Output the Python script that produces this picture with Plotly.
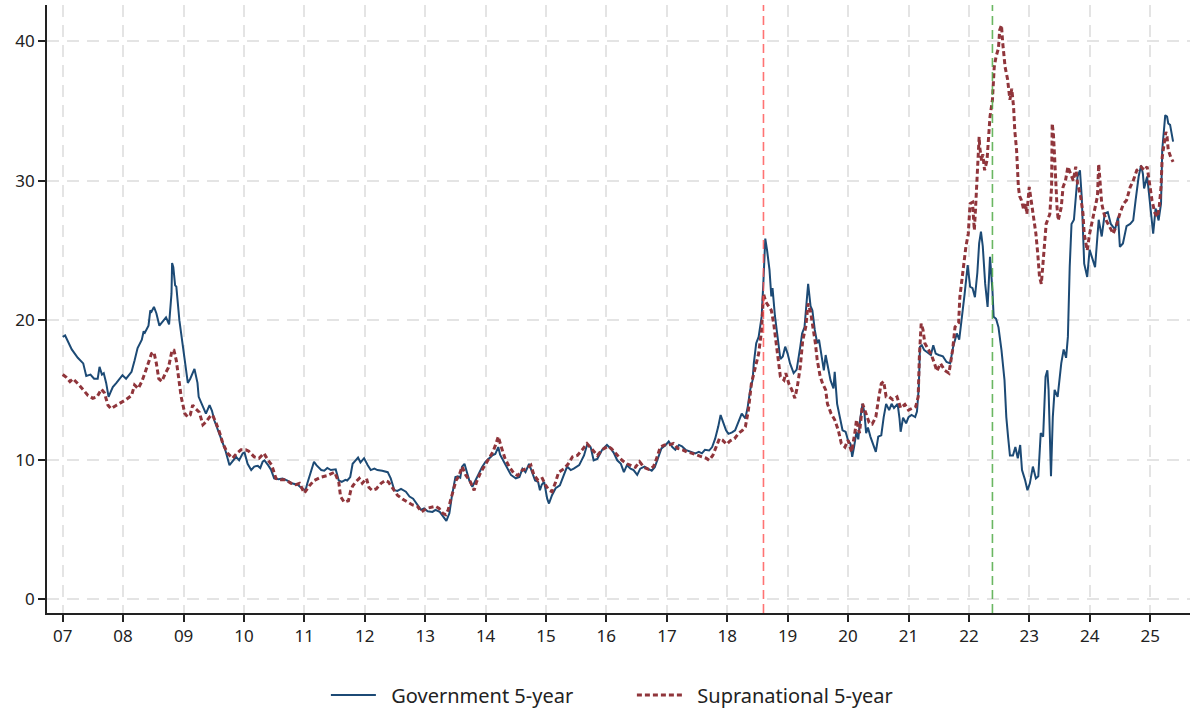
import pandas as pd
import plotly.graph_objects as go

# Weekly-ish observations, time in decimal years
gov_year = [
    2007.00, 2007.04, 2007.15, 2007.25, 2007.34, 2007.39, 2007.46, 2007.52, 2007.58, 2007.61, 2007.65, 2007.68, 2007.72, 2007.76, 2007.79, 2007.83, 2007.89, 2007.94, 2007.99,
    2008.05, 2008.14, 2008.19, 2008.24, 2008.31, 2008.34, 2008.36, 2008.42, 2008.45, 2008.47, 2008.51, 2008.55, 2008.60, 2008.66, 2008.71, 2008.76, 2008.80, 2008.81, 2008.83, 2008.86, 2008.88, 2008.93, 2008.99,
    2009.03, 2009.07, 2009.11, 2009.15, 2009.18, 2009.23, 2009.25, 2009.32, 2009.37, 2009.43, 2009.47, 2009.51, 2009.57, 2009.62, 2009.69, 2009.76, 2009.81, 2009.87, 2009.92, 2009.98,
    2010.01, 2010.06, 2010.12, 2010.17, 2010.23, 2010.27, 2010.31, 2010.34, 2010.40, 2010.45, 2010.50, 2010.57, 2010.64, 2010.72, 2010.79, 2010.89, 2010.97,
    2011.02, 2011.05, 2011.11, 2011.16, 2011.20, 2011.28, 2011.33, 2011.38, 2011.44, 2011.52, 2011.57, 2011.62, 2011.68, 2011.71, 2011.76, 2011.80, 2011.85, 2011.89, 2011.93, 2011.99,
    2012.05, 2012.10, 2012.16, 2012.21, 2012.29, 2012.38, 2012.43, 2012.49, 2012.54, 2012.60, 2012.68, 2012.74, 2012.80, 2012.87, 2012.93, 2012.98,
    2013.04, 2013.12, 2013.17, 2013.24, 2013.30, 2013.35, 2013.40, 2013.44, 2013.50, 2013.54, 2013.58, 2013.61, 2013.65, 2013.69, 2013.73, 2013.78, 2013.83, 2013.88, 2013.94,
    2014.00, 2014.06, 2014.11, 2014.16, 2014.21, 2014.24, 2014.30, 2014.36, 2014.42, 2014.50, 2014.56, 2014.61, 2014.66, 2014.72, 2014.76, 2014.82, 2014.87, 2014.90, 2014.93, 2014.97,
    2015.02, 2015.05, 2015.10, 2015.16, 2015.23, 2015.30, 2015.35, 2015.41, 2015.46, 2015.55, 2015.63, 2015.68, 2015.74, 2015.79, 2015.85, 2015.93,
    2016.01, 2016.07, 2016.12, 2016.18, 2016.24, 2016.29, 2016.34, 2016.40, 2016.45, 2016.51, 2016.56, 2016.63, 2016.70, 2016.75, 2016.80, 2016.86, 2016.91, 2016.98,
    2017.03, 2017.09, 2017.14, 2017.20, 2017.25, 2017.31, 2017.39, 2017.47, 2017.53, 2017.58, 2017.63, 2017.70, 2017.75, 2017.80, 2017.85, 2017.89, 2017.93, 2017.98,
    2018.02, 2018.08, 2018.13, 2018.19, 2018.24, 2018.30, 2018.34, 2018.38, 2018.42, 2018.44, 2018.48, 2018.52, 2018.57, 2018.60, 2018.63, 2018.66, 2018.70, 2018.73, 2018.75, 2018.79, 2018.82, 2018.85, 2018.88, 2018.92, 2018.96,
    2019.00, 2019.04, 2019.10, 2019.15, 2019.21, 2019.24, 2019.28, 2019.31, 2019.34, 2019.38, 2019.41, 2019.45, 2019.49, 2019.52, 2019.57, 2019.60, 2019.63, 2019.68, 2019.71, 2019.76, 2019.78, 2019.82, 2019.87, 2019.91, 2019.96,
    2020.00, 2020.04, 2020.07, 2020.10, 2020.14, 2020.17, 2020.20, 2020.24, 2020.27, 2020.30, 2020.33, 2020.37, 2020.41, 2020.46, 2020.50, 2020.55, 2020.59, 2020.63, 2020.68, 2020.72, 2020.76, 2020.82, 2020.85, 2020.87, 2020.91, 2020.96,
    2021.00, 2021.05, 2021.11, 2021.14, 2021.17, 2021.19, 2021.22, 2021.26, 2021.31, 2021.37, 2021.41, 2021.45, 2021.50, 2021.57, 2021.63, 2021.69, 2021.74, 2021.80, 2021.84, 2021.89, 2021.93, 2021.98,
    2022.02, 2022.06, 2022.10, 2022.14, 2022.17, 2022.20, 2022.23, 2022.27, 2022.31, 2022.35, 2022.36, 2022.39, 2022.41, 2022.45, 2022.49, 2022.54, 2022.59, 2022.62, 2022.65, 2022.68, 2022.73, 2022.77, 2022.81, 2022.85, 2022.88, 2022.93, 2022.97,
    2023.01, 2023.06, 2023.11, 2023.15, 2023.19, 2023.23, 2023.27, 2023.30, 2023.32, 2023.36, 2023.39, 2023.42, 2023.47, 2023.53, 2023.57, 2023.61, 2023.64, 2023.67, 2023.70, 2023.74, 2023.77, 2023.80, 2023.84, 2023.87, 2023.91, 2023.96,
    2024.00, 2024.04, 2024.09, 2024.15, 2024.20, 2024.25, 2024.30, 2024.35, 2024.42, 2024.47, 2024.50, 2024.55, 2024.61, 2024.67, 2024.72, 2024.76, 2024.81, 2024.85, 2024.88, 2024.90, 2024.95, 2024.98,
    2025.02, 2025.05, 2025.09, 2025.14, 2025.18, 2025.20, 2025.25, 2025.28, 2025.30, 2025.33, 2025.38,
]
gov_value = [
    18.8, 18.9, 17.9, 17.3, 16.9, 16.0, 16.1, 15.8, 15.8, 16.65, 16.1, 16.2, 15.5, 14.5, 14.8, 15.2, 15.5, 15.8, 16.05,
    15.8, 16.3, 17.1, 18.0, 18.6, 19.2, 19.1, 19.6, 20.7, 20.6, 20.95, 20.5, 19.6, 19.9, 20.2, 19.7, 21.9, 24.1, 23.8, 22.5, 22.4, 20.0, 18.1,
    16.9, 15.5, 15.8, 16.2, 16.5, 15.5, 14.5, 13.8, 13.3, 13.9, 13.5, 12.8, 12.1, 11.4, 10.7, 9.6, 9.9, 10.2, 9.95, 10.45,
    10.5, 9.7, 9.25, 9.5, 9.55, 9.4, 9.85, 9.95, 9.6, 9.25, 8.65, 8.6, 8.65, 8.5, 8.3, 8.2, 7.9,
    7.8, 8.3, 9.1, 9.85, 9.6, 9.25, 9.2, 9.4, 9.25, 9.3, 8.5, 8.4, 8.55, 8.5, 8.75, 9.7, 9.95, 10.15, 9.8, 10.1,
    9.6, 9.25, 9.35, 9.25, 9.2, 9.1, 8.65, 7.8, 7.75, 7.9, 7.7, 7.35, 7.2, 6.75, 6.4, 6.5,
    6.3, 6.25, 6.4, 6.25, 5.9, 5.6, 6.15, 7.35, 8.75, 8.8, 8.7, 9.5, 9.7, 9.1, 8.5, 8.05, 8.5, 8.9, 9.45,
    9.85, 10.1, 10.3, 10.4, 10.9, 10.35, 9.85, 9.35, 8.9, 8.65, 8.75, 9.35, 9.1, 9.7, 9.2, 8.5, 8.4, 7.8, 8.2, 8.4,
    7.2, 6.85, 7.45, 7.95, 8.15, 8.9, 9.5, 9.25, 9.35, 9.6, 10.3, 11.05, 10.9, 9.95, 10.05, 10.7,
    11.05, 10.8, 10.5, 9.95, 9.7, 9.1, 9.6, 9.35, 9.25, 8.9, 9.35, 9.5, 9.35, 9.2, 9.45, 10.2, 10.8, 11.05,
    11.3, 10.9, 10.7, 11.05, 10.95, 10.7, 10.55, 10.45, 10.55, 10.45, 10.7, 10.65, 10.9, 11.5, 12.35, 13.2, 12.7, 12.1,
    11.85, 11.95, 12.1, 12.7, 13.3, 12.95, 13.8, 15.0, 15.7, 16.9, 18.35, 18.8, 20.25, 22.85, 25.85, 25.0, 23.6, 21.7, 22.3, 20.3, 19.3, 18.1, 17.2, 17.4, 18.1,
    17.6, 16.9, 16.2, 16.45, 18.1, 19.05, 19.5, 20.95, 22.6, 21.0, 20.7, 19.3, 18.35, 18.6, 17.4, 16.4, 17.5, 16.4, 15.7, 15.1, 16.3, 14.0, 13.05, 12.1, 12.0,
    11.4, 11.15, 10.2, 10.9, 12.0, 11.45, 12.85, 14.0, 13.4, 11.9, 12.3, 11.65, 11.2, 10.55, 11.65, 11.75, 13.05, 14.0, 13.55, 14.0, 13.7, 14.0, 13.0, 12.0, 13.0, 12.6,
    13.05, 13.2, 13.05, 13.45, 15.2, 18.1, 18.2, 17.85, 17.7, 17.5, 18.2, 17.6, 17.5, 17.4, 17.0, 16.9, 18.1, 19.05, 18.6, 20.25, 21.9, 23.95,
    22.4, 22.3, 21.65, 23.4, 25.5, 26.35, 25.3, 22.6, 20.95, 24.55, 24.0, 22.15, 20.25, 20.1, 19.5, 17.85, 15.7, 13.05, 11.6, 10.3, 10.3, 10.9, 10.1, 11.05, 9.25, 8.55, 7.8,
    8.3, 9.5, 8.65, 8.8, 11.9, 11.65, 15.95, 16.4, 15.0, 8.8, 13.05, 15.0, 14.5, 16.9, 17.9, 17.3, 18.8, 23.8, 26.9, 27.2, 28.85, 30.3, 30.75, 28.8, 24.05, 23.1,
    25.05, 24.55, 23.8, 27.2, 26.0, 27.65, 27.75, 26.9, 26.5, 27.4, 25.25, 25.5, 26.75, 26.9, 27.15, 28.6, 30.3, 31.1, 30.5, 29.45, 30.3, 29.1,
    27.4, 26.2, 28.0, 27.15, 28.35, 32.2, 34.7, 34.6, 34.1, 34.0, 32.8,
]

supra_year = [
    2007.00, 2007.06, 2007.12, 2007.17, 2007.25, 2007.34, 2007.42, 2007.50, 2007.57, 2007.64, 2007.69, 2007.75, 2007.80, 2007.89, 2007.97,
    2008.05, 2008.14, 2008.19, 2008.25, 2008.31, 2008.36, 2008.41, 2008.47, 2008.51, 2008.55, 2008.59, 2008.64, 2008.70, 2008.75, 2008.81, 2008.84, 2008.88, 2008.92, 2008.96,
    2009.02, 2009.07, 2009.11, 2009.15, 2009.20, 2009.26, 2009.32, 2009.37, 2009.43, 2009.48, 2009.54, 2009.60, 2009.65, 2009.73, 2009.81, 2009.88, 2009.95,
    2010.03, 2010.08, 2010.17, 2010.25, 2010.33, 2010.40, 2010.46, 2010.53, 2010.61, 2010.69, 2010.78, 2010.86, 2010.92,
    2011.00, 2011.08, 2011.16, 2011.28, 2011.38, 2011.50, 2011.57, 2011.60, 2011.66, 2011.73, 2011.77, 2011.80, 2011.85, 2011.91, 2011.96,
    2012.03, 2012.07, 2012.12, 2012.19, 2012.27, 2012.34, 2012.39, 2012.47, 2012.54, 2012.63, 2012.70, 2012.79, 2012.87, 2012.94,
    2013.02, 2013.11, 2013.17, 2013.23, 2013.29, 2013.34, 2013.38, 2013.42, 2013.47, 2013.51, 2013.56, 2013.61, 2013.67, 2013.75, 2013.81, 2013.85, 2013.92, 2013.98,
    2014.05, 2014.12, 2014.16, 2014.21, 2014.26, 2014.32, 2014.39, 2014.47, 2014.53, 2014.61, 2014.68, 2014.75, 2014.80, 2014.87, 2014.94, 2014.99,
    2015.05, 2015.10, 2015.16, 2015.21, 2015.30, 2015.37, 2015.44, 2015.52, 2015.60, 2015.68, 2015.77, 2015.85, 2015.93,
    2016.02, 2016.08, 2016.17, 2016.26, 2016.34, 2016.40, 2016.48, 2016.55, 2016.62, 2016.70, 2016.78, 2016.84, 2016.89, 2016.96,
    2017.03, 2017.11, 2017.18, 2017.26, 2017.33, 2017.42, 2017.50, 2017.58, 2017.65, 2017.70, 2017.76, 2017.81, 2017.87, 2017.92, 2017.99,
    2018.05, 2018.12, 2018.19, 2018.25, 2018.30, 2018.35, 2018.40, 2018.46, 2018.52, 2018.57, 2018.60, 2018.64, 2018.69, 2018.73, 2018.77, 2018.81, 2018.84, 2018.88, 2018.94, 2018.97,
    2019.02, 2019.07, 2019.12, 2019.16, 2019.21, 2019.25, 2019.30, 2019.34, 2019.38, 2019.42, 2019.46, 2019.49, 2019.54, 2019.58, 2019.63, 2019.66, 2019.72, 2019.78, 2019.84, 2019.89, 2019.95,
    2020.00, 2020.06, 2020.12, 2020.14, 2020.19, 2020.24, 2020.29, 2020.35, 2020.40, 2020.46, 2020.51, 2020.55, 2020.59, 2020.63, 2020.68, 2020.74, 2020.81, 2020.87, 2020.94,
    2021.00, 2021.07, 2021.12, 2021.16, 2021.18, 2021.21, 2021.24, 2021.27, 2021.33, 2021.38, 2021.43, 2021.47, 2021.53, 2021.60, 2021.67, 2021.73, 2021.77, 2021.83, 2021.85, 2021.91, 2021.95, 2021.99,
    2022.02, 2022.06, 2022.09, 2022.11, 2022.17, 2022.18, 2022.21, 2022.23, 2022.26, 2022.30, 2022.32, 2022.35, 2022.39, 2022.42, 2022.45, 2022.49, 2022.51, 2022.54, 2022.56, 2022.60, 2022.64, 2022.68, 2022.71, 2022.74, 2022.76, 2022.79, 2022.82, 2022.84, 2022.87, 2022.91, 2022.94, 2022.96,
    2023.00, 2023.03, 2023.07, 2023.11, 2023.14, 2023.17, 2023.20, 2023.24, 2023.28, 2023.34, 2023.37, 2023.38, 2023.40, 2023.42, 2023.44, 2023.46, 2023.48, 2023.53, 2023.56, 2023.60, 2023.64, 2023.69, 2023.73, 2023.77, 2023.80, 2023.85, 2023.89, 2023.91, 2023.96,
    2024.00, 2024.04, 2024.08, 2024.13, 2024.15, 2024.17, 2024.20, 2024.24, 2024.28, 2024.33, 2024.39, 2024.45, 2024.50, 2024.56, 2024.61, 2024.67, 2024.72, 2024.78, 2024.85, 2024.90, 2024.95, 2024.99,
    2025.03, 2025.08, 2025.12, 2025.15, 2025.18, 2025.20, 2025.24, 2025.26, 2025.28, 2025.30, 2025.34, 2025.38,
]
supra_value = [
    16.1, 15.9, 15.6, 15.8, 15.45, 15.0, 14.6, 14.4, 14.5, 15.05, 14.8, 13.9, 13.65, 13.9, 14.1,
    14.3, 14.6, 15.35, 15.1, 15.6, 16.2, 16.9, 17.6, 17.7, 16.9, 15.8, 15.6, 16.2, 16.6, 17.85, 17.85, 17.1, 15.7, 14.5,
    13.3, 13.05, 13.2, 13.9, 13.65, 13.4, 12.5, 12.7, 13.05, 13.2, 12.6, 11.9, 11.15, 10.45, 10.1, 10.45, 10.7,
    10.7, 10.6, 10.2, 10.1, 10.45, 9.95, 9.6, 8.65, 8.55, 8.55, 8.3, 8.2, 8.3,
    7.6, 8.1, 8.5, 8.75, 8.85, 9.1, 8.4, 7.35, 6.95, 7.05, 7.8, 8.1, 8.4, 8.65, 8.3,
    8.65, 8.0, 7.8, 7.9, 8.3, 8.5, 8.4, 7.9, 7.45, 7.15, 6.95, 6.75, 6.65, 6.25,
    6.5, 6.6, 6.65, 6.5, 6.15, 6.05, 6.4, 7.1, 7.95, 8.5, 8.85, 9.5, 8.9, 8.4, 7.8, 8.4, 9.1, 9.55,
    10.1, 10.55, 11.0, 11.65, 10.9, 10.1, 9.5, 9.0, 8.85, 9.25, 9.35, 9.6, 8.9, 8.5, 8.65, 8.2,
    7.8, 7.7, 8.4, 9.1, 9.35, 9.7, 10.2, 10.3, 10.7, 11.15, 10.7, 10.3, 10.7,
    10.95, 10.8, 10.4, 9.95, 9.7, 9.6, 9.45, 9.85, 9.45, 9.3, 9.5, 10.2, 10.9, 11.05,
    11.05, 11.15, 10.8, 10.7, 10.55, 10.45, 10.3, 10.2, 10.1, 9.95, 10.3, 10.8, 11.5, 11.4, 11.1,
    11.35, 11.5, 11.9, 12.1, 12.35, 13.55, 15.45, 16.65, 17.6, 19.3, 21.9, 21.3, 20.95, 20.7, 19.75, 18.45, 17.15, 15.95, 15.7, 16.2,
    15.45, 15.0, 14.4, 15.2, 16.65, 18.55, 19.5, 21.2, 20.6, 19.5, 18.35, 17.15, 15.95, 15.45, 15.0, 14.0, 13.3, 12.85, 12.1, 11.15, 10.9,
    11.4, 10.55, 12.1, 12.85, 11.9, 14.0, 13.4, 12.65, 12.55, 13.05, 14.5, 15.45, 15.6, 14.5, 14.5, 14.3, 14.5, 13.7, 13.95,
    13.55, 13.7, 13.8, 14.5, 17.4, 19.75, 19.3, 18.35, 17.85, 17.5, 16.9, 16.35, 16.9, 16.4, 16.2, 17.85, 19.5, 19.8, 21.65, 23.8, 25.25, 26.2,
    28.35, 28.45, 26.45, 28.0, 33.15, 32.4, 31.45, 31.9, 30.75, 31.45, 32.9, 34.6, 35.8, 38.15, 38.9, 39.5, 40.8, 41.15, 39.9, 38.15, 37.3, 35.8, 36.6, 35.3, 33.6, 32.2, 29.55, 28.9, 28.6, 27.9, 28.35, 27.6,
    29.55, 28.6, 27.4, 26.2, 24.8, 23.1, 22.6, 24.8, 26.9, 27.6, 29.55, 34.1, 33.35, 31.7, 29.55, 28.1, 27.15, 28.1, 29.55, 30.0, 31.0, 30.5, 30.0, 31.0, 29.8, 28.9, 27.65, 26.2, 25.0,
    26.2, 27.1, 27.9, 28.9, 31.2, 30.0, 28.35, 27.6, 27.1, 26.7, 26.2, 26.9, 27.65, 28.35, 28.6, 29.55, 30.0, 30.75, 31.0, 30.75, 31.0, 29.8,
    28.6, 27.65, 27.4, 28.1, 29.55, 31.7, 32.9, 33.5, 33.15, 32.2, 31.7, 31.35,
]

# Event markers (decimal years)
event_years = [2018.60, 2022.39]
event_colors = ["rgba(255,80,80,0.8)", "rgba(80,170,70,0.85)"]

x_range_years = [2006.74, 2025.66]
y_range = [-1.0, 42.6]
y_ticks = [0, 10, 20, 30, 40]

assert len(gov_year) == len(gov_value)
assert len(supra_year) == len(supra_value)


def to_date(y):
    yr = int(y)
    start = pd.Timestamp(yr, 1, 1)
    end = pd.Timestamp(yr + 1, 1, 1)
    return start + (end - start) * (y - yr)


gov_dates = [to_date(v) for v in gov_year]
supra_dates = [to_date(v) for v in supra_year]

NAVY = "#1c4a75"
MAROON = "#90353b"
FONT = "Noto Sans"
PAD = "\u00a0\u00a0"

fig = go.Figure()
fig.add_trace(go.Scatter(
    x=gov_dates, y=gov_value, mode="lines", name=PAD + "Government 5-year",
    line=dict(color=NAVY, width=2),
))
fig.add_trace(go.Scatter(
    x=supra_dates, y=supra_value, mode="lines", name=PAD + "Supranational 5-year",
    line=dict(color=MAROON, width=3, dash="5px,3px"),
))

for yr, col in zip(event_years, event_colors):
    d = to_date(yr)
    fig.add_shape(type="line", xref="x", yref="paper", x0=d, x1=d, y0=0, y1=1,
                  line=dict(color=col, width=1.6, dash="9px,5px"), layer="above")

grid = dict(showgrid=True, gridcolor="#e4e4e4", gridwidth=1.6, griddash="12px,8px")
tick_style = dict(ticks="outside", ticklen=7, tickwidth=1.5, tickcolor="#222",
                  showline=True, linecolor="#222", linewidth=1.6, zeroline=False,
                  tickfont=dict(family=FONT, size=17, color="#222"))

fig.update_xaxes(
    type="date",
    range=[to_date(x_range_years[0]), to_date(x_range_years[1])],
    tick0="2007-01-01", dtick="M12", tickformat="%y",
    **tick_style, **grid,
)
fig.update_yaxes(range=y_range, tickvals=y_ticks, **tick_style, **grid)

fig.update_layout(
    width=1192, height=711,
    margin=dict(l=47, r=2, t=5, b=98, autoexpand=False),
    plot_bgcolor="white", paper_bgcolor="white",
    font=dict(family=FONT, color="#222"),
    showlegend=True,
    legend=dict(orientation="h", x=0.244, xanchor="left", y=-0.135, yanchor="middle",
                font=dict(family=FONT, size=20, color="#222"),
                itemwidth=45, entrywidth=246),
)

fig.write_html("out.html")
